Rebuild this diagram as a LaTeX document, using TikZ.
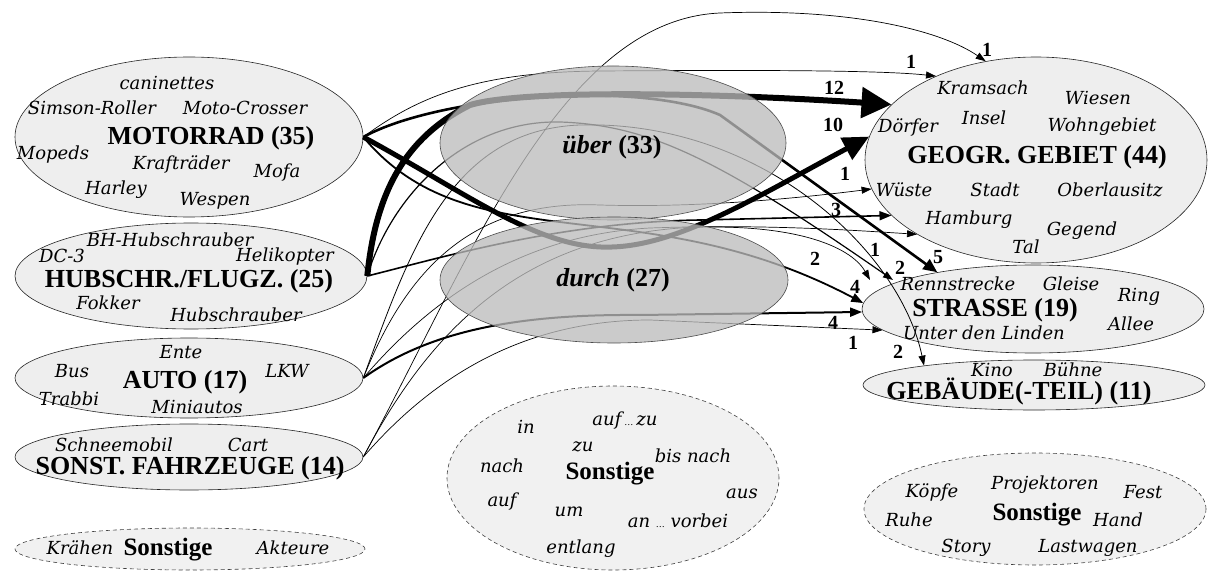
\documentclass[tikz,border=0pt]{standalone}
\usepackage{fontspec}
\setmainfont{Liberation Serif}
\newfontfamily\wordfont{DejaVu Serif}
\usetikzlibrary{shapes.geometric,arrows.meta}

\definecolor{catgray}{RGB}{238,238,238}
\definecolor{prepgray}{RGB}{187,187,187}

\tikzset{
  cat/.style={ellipse, draw=black!85, line width=0.6pt, fill=catgray, inner sep=0pt},
  rest/.style={cat, draw=black!75, dash pattern=on 4pt off 3pt, fill=catgray!85},
  prep/.style={ellipse, draw=black!70, line width=0.6pt, fill=prepgray, fill opacity=0.77, inner sep=0pt},
  word/.style={font=\wordfont\itshape\fontsize{18}{18}\selectfont, inner sep=0pt},
  cattitle/.style={font=\bfseries\fontsize{26}{26}\selectfont, inner sep=0pt},
  restitle/.style={font=\bfseries\fontsize{25}{25}\selectfont, inner sep=0pt},
  num/.style={font=\bfseries\fontsize{20}{20}\selectfont, inner sep=0pt},
  flow/.style={line width=#1, -{Triangle[length=10pt,width=7pt]}},
}

\begin{document}
\begin{tikzpicture}[x=1pt, y=-1pt]
    \useasboundingbox (0,0) rectangle (1208,572);
    % Vehicles (left)
    \node[cat, minimum width=348pt, minimum height=160pt] (motorrad) at (189,137) {};
    \node[cat, minimum width=352pt, minimum height=106pt] (hubschr) at (191,276) {};
    \node[cat, minimum width=348pt, minimum height=80pt] (auto) at (189,378) {};
    \node[cat, minimum width=348pt, minimum height=66pt] (sonst) at (189,457) {};
    \node[rest, minimum width=350pt, minimum height=42pt] (restleft) at (190,549) {};
    % Places (right)
    \node[cat, minimum width=342pt, minimum height=206pt] (geo) at (1036,160) {};
    \node[cat, minimum width=342pt, minimum height=88pt] (strasse) at (1033,309) {};
    \node[cat, minimum width=342pt, minimum height=50pt] (gebaeude) at (1034,385) {};
    \node[rest, minimum width=332pt, minimum height=184pt] (restmid) at (613,478) {};
    \node[rest, minimum width=342pt, minimum height=112pt] (restright) at (1035,509) {};
    \coordinate (tipA) at (870,280);
    \coordinate (tipB) at (893,280);

    % Flows
    \draw[flow=6pt, -{Triangle[length=30pt,width=30pt]}] (hubschr.east) .. controls (375,200) and (400,140) .. (470,105) .. controls (520,90) and (700,92) .. (geo.159);
    \draw[flow=5pt, -{Triangle[length=26pt,width=24pt]}] (motorrad.east) .. controls (470,195) and (540,250) .. (612,247) .. controls (680,245) and (760,195) .. (geo.172);
    \draw[flow=0.7pt] (sonst.east) .. controls (470,260) and (560,20) .. (720,13) .. controls (850,8) and (940,30) .. (geo.117);
    \draw[flow=0.7pt] (motorrad.east) .. controls (420,95) and (480,72) .. (600,71) .. controls (750,70) and (880,70) .. (geo.140);
    \draw[flow=2.6pt, -{Triangle[length=14pt,width=12pt]}] (motorrad.east) .. controls (440,95) and (640,80) .. (720,115) -- (strasse.159);
    \draw[flow=0.7pt] (auto.east) .. controls (410,260) and (480,200) .. (600,205) .. controls (700,208) and (800,198) .. (geo.190);
    \draw[flow=0.8pt] (auto.east) .. controls (410,250) and (450,130) .. (580,125) .. controls (760,120) and (900,250) .. (gebaeude.170);
    \draw[flow=1.6pt, -{Triangle[length=12pt,width=9pt]}] (hubschr.east) .. controls (440,258) and (560,222) .. (700,220) -- (geo.201);
    \draw[flow=0.7pt] (auto.east) .. controls (430,300) and (520,235) .. (650,228) .. controls (760,224) and (850,230) .. (geo.212);
    \draw[flow=0.7pt] (sonst.east) .. controls (430,330) and (520,240) .. (680,228) .. controls (790,222) and (850,245) .. (tipA);
    \draw[flow=1.2pt] (hubschr.east) .. controls (390,200) and (460,120) .. (560,122) .. controls (650,125) and (720,160) .. (tipB);
    \draw[flow=1.8pt, -{Triangle[length=12pt,width=9pt]}] (motorrad.east) .. controls (470,265) and (640,185) .. (strasse.178);
    \draw[flow=2pt, -{Triangle[length=12pt,width=9pt]}] (auto.east) .. controls (430,330) and (520,314) .. (640,315) -- (strasse.181);
    \draw[flow=0.7pt] (sonst.east) .. controls (430,380) and (520,320) .. (650,320) -- (strasse.188);

    % Prepositions
    \node[prep, minimum width=346pt, minimum height=154pt] (ueber) at (613,143) {};
    \node[prep, minimum width=348pt, minimum height=126pt] (durch) at (614,280) {};
    \node[cattitle] (ueberlabel) at (612,147) {\textit{über} (33)};
    \node[cattitle] (durchlabel) at (613,280) {\textit{durch} (27)};

    % Flow counts
    \node[num] (n1) at (987,50) {1};
    \node[num] (n2) at (911,62) {1};
    \node[num] (n3) at (834,88) {12};
    \node[num] (n4) at (833,125) {10};
    \node[num] (n5) at (845,174) {1};
    \node[num] (n6) at (836,210) {3};
    \node[num] (n7) at (875,250) {1};
    \node[num] (n8) at (938,257) {5};
    \node[num] (n9) at (900,268) {2};
    \node[num] (n10) at (815,259) {2};
    \node[num] (n11) at (855,287) {4};
    \node[num] (n12) at (833,323) {4};
    \node[num] (n13) at (853,343) {1};
    \node[num] (n14) at (898,352) {2};

    % Category texts
    \node[cattitle] (motorradlabel) at (211,138) {MOTORRAD (35)};
    \node[word] at (167,83) {caninettes};
    \node[word] at (92,108) {Simson-Roller};
    \node[word] at (245,108) {Moto-Crosser};
    \node[word] at (53,155) {Mopeds};
    \node[word] at (181,164) {Krafträder};
    \node[word] at (277,173) {Mofa};
    \node[word] at (116,190) {Harley};
    \node[word] at (215,201) {Wespen};

    \node[cattitle] (hubschrlabel) at (189,281) {HUBSCHR./FLUGZ. (25)};
    \node[word] at (170,240) {BH-Hubschrauber};
    \node[word] at (62,256) {DC-3};
    \node[word] at (285,257) {Helikopter};
    \node[word] at (108,303) {Fokker};
    \node[word] at (236,315) {Hubschrauber};

    \node[cattitle] (autolabel) at (185,382) {AUTO (17)};
    \node[word] at (181,352) {Ente};
    \node[word] at (72,371) {Bus};
    \node[word] at (287,371) {LKW};
    \node[word] at (69,399) {Trabbi};
    \node[word] at (197,407) {Miniautos};

    \node[cattitle] (sonstlabel) at (190,468) {SONST. FAHRZEUGE (14)};
    \node[word] at (114,445) {Schneemobil};
    \node[word] at (248,445) {Cart};

    \node[restitle] (restleftlabel) at (168,550) {Sonstige};
    \node[word] at (80,548) {Krähen};
    \node[word] at (293,548) {Akteure};

    \node[cattitle] (geolabel) at (1037,157) {GEOGR. GEBIET (44)};
    \node[word] at (983,88) {Kramsach};
    \node[word] at (1098,98) {Wiesen};
    \node[word] at (908,127) {Dörfer};
    \node[word] at (984,118) {Insel};
    \node[word] at (1102,127) {Wohngebiet};
    \node[word] at (904,190) {Wüste};
    \node[word] at (995,190) {Stadt};
    \node[word] at (1110,190) {Oberlausitz};
    \node[word] at (969,220) {Hamburg};
    \node[word] at (1082,231) {Gegend};
    \node[word] at (1026,247) {Tal};

    \node[cattitle] (strasselabel) at (995,310) {STRASSE (19)};
    \node[word] at (958,284) {Rennstrecke};
    \node[word] at (1071,284) {Gleise};
    \node[word] at (1139,297) {Ring};
    \node[word] at (1131,324) {Allee};
    \node[word] at (984,333) {Unter den Linden};

    \node[cattitle] (gebaeudelabel) at (1019,391) {GEBÄUDE(-TEIL) (11)};
    \node[word] at (992,370) {Kino};
    \node[word] at (1073,370) {Bühne};

    \node[restitle] (restmidlabel) at (610,474) {Sonstige};
    \node[word] at (526,427) {in};
    \node[word] at (625,421) {auf\,{\fontsize{9}{9}\selectfont …}\,zu};
    \node[word] at (583,447) {zu};
    \node[word] at (693,456) {bis nach};
    \node[word] at (502,466) {nach};
    \node[word] at (742,494) {aus};
    \node[word] at (502,502) {auf};
    \node[word] at (569,512) {um};
    \node[word] at (678,521) {an {\fontsize{9}{9}\selectfont …} vorbei};
    \node[word] at (581,549) {entlang};

    \node[restitle] (restrightlabel) at (1037,515) {Sonstige};
    \node[word] at (932,492) {Köpfe};
    \node[word] at (1045,485) {Projektoren};
    \node[word] at (1143,492) {Fest};
    \node[word] at (909,520) {Ruhe};
    \node[word] at (1118,520) {Hand};
    \node[word] at (966,548) {Story};
    \node[word] at (1088,548) {Lastwagen};
\end{tikzpicture}
\end{document}
